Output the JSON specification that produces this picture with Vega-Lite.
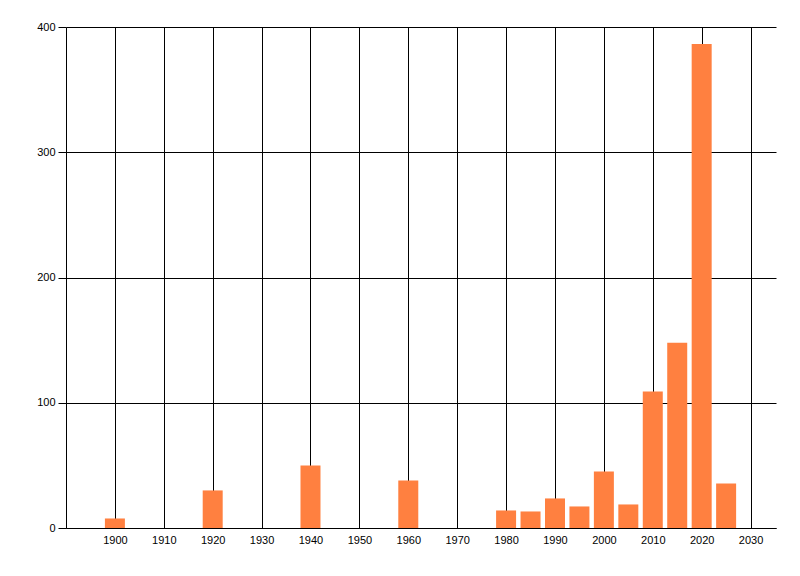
{
  "$schema": "https://vega.github.io/schema/vega-lite/v6.json",
  "width": 710,
  "height": 501,
  "autosize": "none",
  "padding": {"left": 66, "top": 27, "right": 24, "bottom": 48},
  "background": "white",
  "data": {
    "values": [
      {"year": 1900, "count": 7.6},
      {"year": 1920, "count": 30},
      {"year": 1940, "count": 50},
      {"year": 1960, "count": 38},
      {"year": 1980, "count": 14},
      {"year": 1985, "count": 13.2},
      {"year": 1990, "count": 23.6},
      {"year": 1995, "count": 17.2},
      {"year": 2000, "count": 45.2},
      {"year": 2005, "count": 18.8},
      {"year": 2010, "count": 109},
      {"year": 2015, "count": 148},
      {"year": 2020, "count": 386.5},
      {"year": 2025, "count": 35.6}
    ]
  },
  "mark": {"type": "bar", "size": 20, "color": "#FF8040"},
  "encoding": {
    "x": {
      "field": "year",
      "type": "quantitative",
      "title": null,
      "scale": {"domain": [1890, 2035.2], "nice": false, "zero": false, "padding": 0},
      "axis": {
        "values": [1900, 1910, 1920, 1930, 1940, 1950, 1960, 1970, 1980, 1990, 2000, 2010, 2020, 2030],
        "format": "d",
        "ticks": false,
        "labelPadding": 6,
        "grid": true,
        "gridColor": "black",
        "gridOpacity": 1,
        "domainColor": "black"
      }
    },
    "y": {
      "field": "count",
      "type": "quantitative",
      "title": null,
      "scale": {"domain": [0, 400], "nice": false, "padding": 0},
      "axis": {
        "values": [0, 100, 200, 300, 400],
        "tickSize": 8,
        "tickColor": "black",
        "labelPadding": 3,
        "grid": true,
        "gridColor": "black",
        "gridOpacity": 1,
        "domainColor": "black"
      }
    }
  },
  "config": {
    "view": {"stroke": null},
    "axis": {
      "labelFont": "Liberation Sans",
      "labelFontSize": 11,
      "labelColor": "black"
    }
  }
}
